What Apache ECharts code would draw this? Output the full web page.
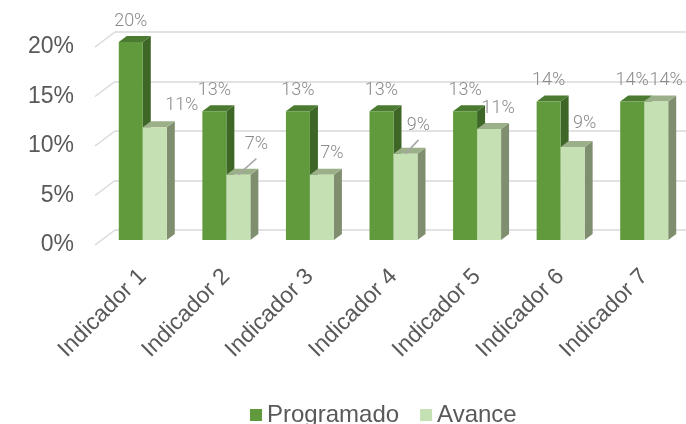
<!DOCTYPE html>
<html>
<head>
<meta charset="utf-8">
<script src="https://cdn.jsdelivr.net/npm/echarts@6/dist/echarts.min.js"></script>
<style>
  html, body { margin: 0; padding: 0; background: #fff; }
  #chart { width: 686px; height: 424px; }
</style>
</head>
<body>
<div id="chart"></div>
<script>
const categories = ['Indicador 1', 'Indicador 2', 'Indicador 3', 'Indicador 4', 'Indicador 5', 'Indicador 6', 'Indicador 7']
const programado = [20, 13, 13, 13, 13, 14, 14]
const avance = [11.4, 6.6, 6.6, 8.7, 11.2, 9.4, 14.0]
const yTicks = [0, 5, 10, 15, 20]

// where excel pushed the Avance value labels: [dx, dy, leader line]
const avanceLabelShift = [[27, -22, 0], [18, -30, 1], [10, -21, 0], [13, -28, 1], [9, -21, 0], [12, -23, 0], [10, -21, 0]]

const BAR_W = 24
const DEPTH_X = 8
const DEPTH_Y = -6
const FONT = 'Liberation Sans, Arial, sans-serif'

const progColors = { front: '#609a3d', side: '#3e6627', top: '#4b7b30' }
const avanceColors = { front: '#c5e0b3', side: '#7f8e6f', top: '#9bb088' }

function bar3d(which, colors) {
  return function(params, api) {
    const idx = api.value(0)
    const val = api.value(1)
    const top = api.coord([idx, val])
    const base = api.coord([idx, 0])
    const x0 = which === 'prog' ? top[0] - BAR_W : top[0]
    const x1 = x0 + BAR_W
    const yt = top[1]
    const yb = base[1]
    const cx = x0 + BAR_W / 2
    const children = [
      {
        type: 'polygon',
        shape: { points: [[x1, yt], [x1 + DEPTH_X, yt + DEPTH_Y], [x1 + DEPTH_X, yb + DEPTH_Y], [x1, yb]] },
        style: { fill: colors.side }
      },
      {
        type: 'polygon',
        shape: { points: [[x0, yt], [x0 + DEPTH_X, yt + DEPTH_Y], [x1 + DEPTH_X, yt + DEPTH_Y], [x1, yt]] },
        style: { fill: colors.top }
      },
      {
        type: 'rect',
        shape: { x: x0, y: yt, width: BAR_W, height: yb - yt },
        style: { fill: colors.front }
      }
    ]
    let lx = cx
    let ly = yt - 21
    if (which === 'avance') {
      const s = avanceLabelShift[params.dataIndex]
      lx = cx + s[0]
      ly = yt + s[1]
      if (s[2]) {
        children.push({
          type: 'line',
          shape: { x1: cx, y1: yt, x2: lx, y2: ly + 14 },
          style: { stroke: '#a6a6a6', lineWidth: 1.5 }
        })
      }
    }
    children.push({
      type: 'text',
      style: {
        text: Math.round(val) + '%',
        x: lx,
        y: ly,
        align: 'center',
        verticalAlign: 'middle',
        fill: '#8a8a8a',
        fontSize: 18,
        fontWeight: 300,
        fontFamily: 'Roboto, sans-serif'
      }
    })
    return { type: 'group', children: children }
  }
}

const chart = echarts.init(document.getElementById('chart'))

const option = {
  animation: false,
  grid: [
    { left: 101, width: 588, top: 42, bottom: 184 },
    { left: 95, width: 20, top: 47, bottom: 179 },
    { left: 115, right: 0, top: 32, bottom: 194 }
  ],
  legend: {
    data: ['Programado', 'Avance'],
    top: 398,
    left: 245,
    icon: 'rect',
    itemWidth: 12,
    itemHeight: 12,
    itemGap: 21,
    textStyle: { fontSize: 24, color: '#595959', fontFamily: FONT }
  },
  xAxis: [
    {
      type: 'category',
      gridIndex: 0,
      data: categories,
      axisLine: { show: false },
      axisTick: { show: false },
      axisLabel: { interval: 0, rotate: 45, margin: 33, fontSize: 23, color: '#595959', fontFamily: FONT }
    },
    { type: 'value', gridIndex: 1, min: 0, max: 1, show: false },
    { type: 'value', gridIndex: 2, min: 0, max: 1, show: false }
  ],
  yAxis: [
    { type: 'value', gridIndex: 0, min: 0, max: 20, interval: 5, show: false },
    {
      type: 'value',
      gridIndex: 1,
      min: 0,
      max: 20,
      interval: 5,
      axisLine: { show: false },
      axisTick: { show: false },
      splitLine: { show: false },
      axisLabel: { formatter: '{value}%', margin: 21, fontSize: 23, color: '#595959', fontFamily: FONT }
    },
    {
      type: 'value',
      gridIndex: 2,
      min: 0,
      max: 20,
      interval: 5,
      axisLine: { show: false },
      axisTick: { show: false },
      axisLabel: { show: false },
      splitLine: { lineStyle: { color: '#d9d9d9', width: 1.5 } }
    }
  ],
  series: [
    {
      // the slanted floor/side lines joining the labels to the back wall
      name: 'walls',
      type: 'custom',
      xAxisIndex: 1,
      yAxisIndex: 1,
      silent: true,
      data: yTicks.map(v => [0, v]),
      renderItem: function(params, api) {
        const p = api.coord([0, api.value(1)])
        return {
          type: 'line',
          shape: { x1: p[0], y1: p[1], x2: p[0] + 20, y2: p[1] - 15 },
          style: { stroke: '#d9d9d9', lineWidth: 1.5 }
        }
      }
    },
    {
      name: 'Programado',
      type: 'custom',
      xAxisIndex: 0,
      yAxisIndex: 0,
      itemStyle: { color: progColors.front },
      data: programado.map((v, i) => [i, v]),
      renderItem: bar3d('prog', progColors)
    },
    {
      name: 'Avance',
      type: 'custom',
      xAxisIndex: 0,
      yAxisIndex: 0,
      itemStyle: { color: avanceColors.front },
      data: avance.map((v, i) => [i, v]),
      renderItem: bar3d('avance', avanceColors)
    }
  ]
}

chart.setOption(option)
</script>
</body>
</html>
